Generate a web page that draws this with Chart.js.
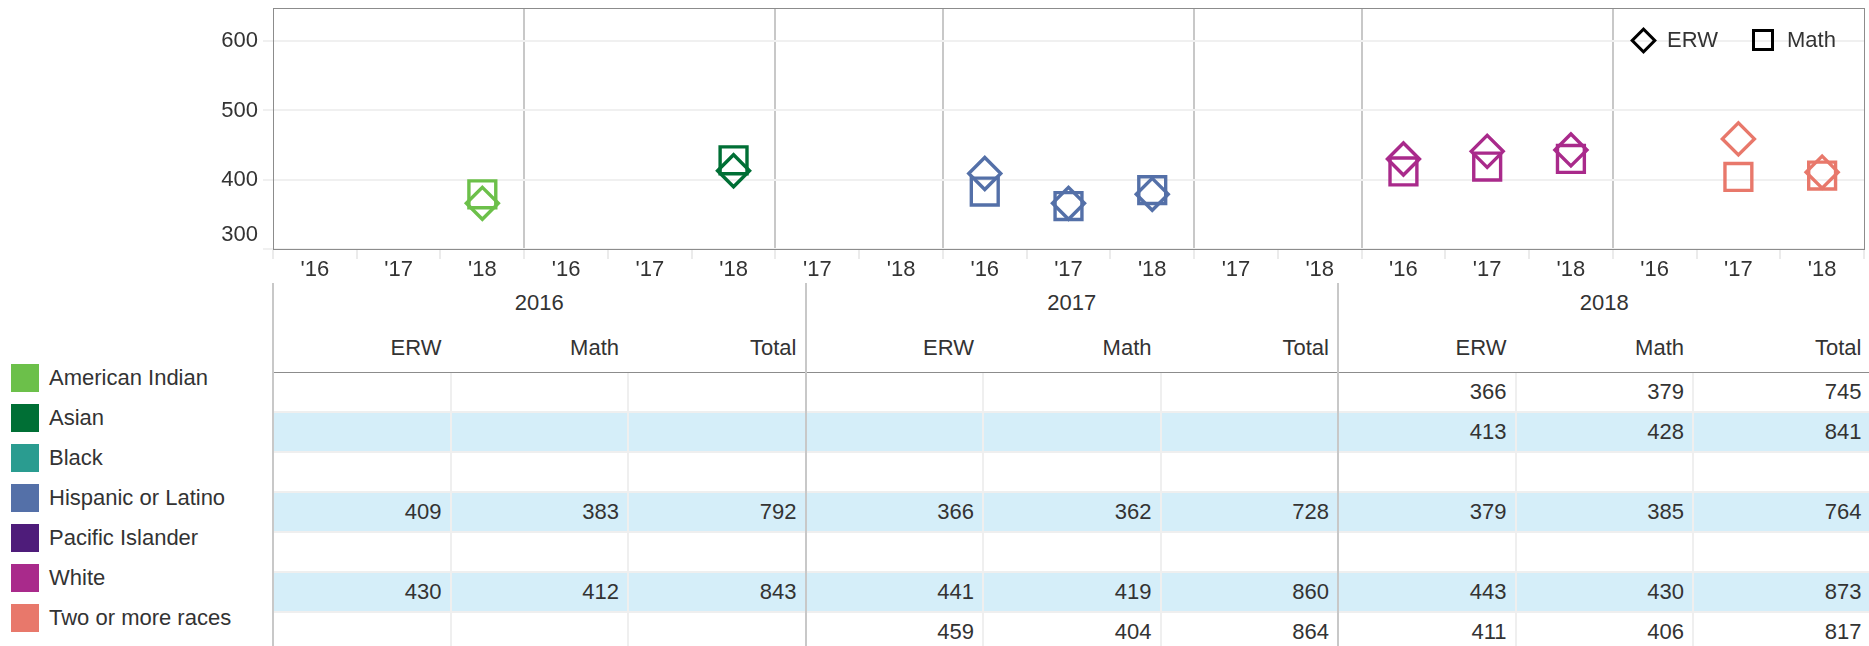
<!DOCTYPE html>
<html>
<head>
<meta charset="utf-8">
<script src="https://cdn.jsdelivr.net/npm/chart.js@4.4.1/dist/chart.umd.min.js"></script>
<style>
  html, body { margin:0; padding:0; background:#fff; }
  body { width:1869px; height:646px; overflow:hidden; font-family:'Liberation Sans', Arial, Helvetica, sans-serif; color:#333; }
  #wrap { position:relative; width:1869px; height:646px; overflow:hidden; }
  #chartBox { position:absolute; left:0; top:0; width:1869px; height:282px; }
  .abs { position:absolute; white-space:nowrap; font-size:22px; }
  .num { text-align:right; box-sizing:border-box; padding-right:9px; }
</style>
</head>
<body>
<div id="wrap">
  <div id="chartBox"><canvas id="c" width="1869" height="282"></canvas></div>
</div>
<script>
// ---------------- data ----------------
const races = ['American Indian', 'Asian', 'Black', 'Hispanic or Latino', 'Pacific Islander', 'White', 'Two or more races'];
const raceYears = [[2016, 2017, 2018], [2016, 2017, 2018], [2017, 2018], [2016, 2017, 2018], [2017, 2018], [2016, 2017, 2018], [2016, 2017, 2018]];
const xTickLabels = ["'16", "'17", "'18", "'16", "'17", "'18", "'17", "'18", "'16", "'17", "'18", "'17", "'18", "'16", "'17", "'18", "'16", "'17", "'18"];
const years = [2016, 2017, 2018];
const measures = ['ERW', 'Math', 'Total'];
const yTicks = [300, 400, 500, 600];
// values by race (null = no data)
const erw2016   = [null, null, null, 409, null, 430, null];
const math2016  = [null, null, null, 383, null, 412, null];
const total2016 = [null, null, null, 792, null, 843, null];
const erw2017   = [null, null, null, 366, null, 441, 459];
const math2017  = [null, null, null, 362, null, 419, 404];
const total2017 = [null, null, null, 728, null, 860, 864];
const erw2018   = [366, 413, null, 379, null, 443, 411];
const math2018  = [379, 428, null, 385, null, 430, 406];
const total2018 = [745, 841, null, 764, null, 873, 817];

// ---------------- styles ----------------
const raceColors = ['#6cc04a', '#006f35', '#2a9c90', '#5470a8', '#4e1c7a', '#a92a8b', '#e8786b'];
const textColor = '#333333';
const FONT = "'Liberation Sans', Arial, Helvetica, sans-serif";

// ---------------- derived ----------------
const valuesByYear = {
  2016: { ERW: erw2016, Math: math2016, Total: total2016 },
  2017: { ERW: erw2017, Math: math2017, Total: total2017 },
  2018: { ERW: erw2018, Math: math2018, Total: total2018 }
};
const cats = [];
raceYears.forEach((ys, r) => ys.forEach(y => cats.push({ r, y })));
const erwData = cats.map(c => valuesByYear[c.y].ERW[c.r]);
const mathData = cats.map(c => valuesByYear[c.y].Math[c.r]);
const catColors = cats.map(c => raceColors[c.r]);
const groupStarts = [];
{ let acc = 0; raceYears.forEach((ys, i) => { if (i > 0) groupStarts.push(acc); acc += ys.length; }); }

const shiftBottomLabel = {
  id: 'shiftBottomLabel',
  beforeDraw(chart) {
    const s = chart.scales.y;
    const items = s.getLabelItems(chart.chartArea);
    items.forEach((it, i) => {
      if (s.ticks[i] && s.ticks[i].value === s.min && !it._shifted) {
        it.options.translation[1] -= 14;
        it._shifted = true;
      }
    });
  }
};
const noPad = s => { s.paddingTop = 0; s.paddingBottom = 0; s.paddingLeft = 0; s.paddingRight = 0; };

const frame = '#8c8c8c';
new Chart(document.getElementById('c'), {
  type: 'line',
  data: {
    labels: xTickLabels,
    datasets: [
      {
        label: 'ERW', data: erwData, showLine: false,
        pointStyle: 'rectRot', pointRadius: 16, pointHoverRadius: 16,
        pointBorderWidth: 3.4, pointHoverBorderWidth: 3.4,
        pointBorderColor: catColors, pointBackgroundColor: 'rgba(0,0,0,0)'
      },
      {
        label: 'Math', data: mathData, showLine: false,
        pointStyle: 'rect', pointRadius: 19, pointHoverRadius: 19,
        pointBorderWidth: 3.4, pointHoverBorderWidth: 3.4,
        pointBorderColor: catColors, pointBackgroundColor: 'rgba(0,0,0,0)'
      }
    ]
  },
  options: {
    responsive: false,
    devicePixelRatio: 1,
    animation: false,
    layout: { autoPadding: false, padding: { top: 8, right: 5, left: 0, bottom: 0 } },
    plugins: { legend: { display: false }, tooltip: { enabled: false } },
    scales: {
      x: {
        type: 'category',
        offset: true,
        grid: {
          offset: true,
          drawOnChartArea: true,
          color: ctx => (ctx.type === 'tick' && groupStarts.includes(ctx.index)) ? '#c8c8c8' : 'rgba(0,0,0,0)',
          tickColor: '#ebebeb',
          lineWidth: 2,
          tickLength: 10
        },
        border: { display: true, color: frame, width: 1 },
        ticks: { color: textColor, font: { family: FONT, size: 22 }, padding: -2, autoSkip: false, maxRotation: 0 },
        afterFit: s => { s.height = 33; noPad(s); }
      },
      x2: {
        type: 'category', position: 'top',
        grid: { display: false, drawTicks: false },
        border: { display: true, color: frame, width: 1 },
        ticks: { display: false },
        afterFit: s => { s.height = 0; noPad(s); }
      },
      y: {
        min: yTicks[0], max: 648,
        grid: { color: '#f0f0f0', tickColor: '#f0f0f0', lineWidth: 2, tickLength: 10 },
        border: { display: true, color: frame, width: 1 },
        ticks: {
          stepSize: 100, includeBounds: false, color: textColor, padding: 5,
          font: { family: FONT, size: 22 },
          callback: v => yTicks.includes(v) ? String(v) : ''
        },
        afterFit: s => { s.width = 273; noPad(s); }
      },
      y2: {
        type: 'linear', position: 'right',
        grid: { display: false, drawTicks: false },
        border: { display: true, color: frame, width: 1 },
        ticks: { display: false },
        afterFit: s => { s.width = 0; noPad(s); }
      }
    }
  },
  plugins: [shiftBottomLabel]
});

// ---------------- HTML parts: legends and table ----------------
const wrap = document.getElementById('wrap');
function el(css, text, cls) {
  const d = document.createElement('div');
  d.className = 'abs' + (cls ? ' ' + cls : '');
  d.style.cssText = css;
  if (text !== undefined && text !== null) d.textContent = text;
  wrap.appendChild(d);
  return d;
}

// top-right marker legend
el('left:1633.5px;top:30.5px;width:19px;height:19px;box-sizing:border-box;border:3px solid #000;transform:rotate(45deg);');
el('left:1667px;top:26px;height:28px;line-height:28px;color:' + textColor + ';', 'ERW');
el('left:1752px;top:29px;width:22px;height:22px;box-sizing:border-box;border:3px solid #000;');
el('left:1787px;top:26px;height:28px;line-height:28px;color:' + textColor + ';', 'Math');

// race legend
races.forEach((name, i) => {
  el('left:11px;top:' + (364 + 40 * i) + 'px;width:28px;height:28px;background:' + raceColors[i] + ';');
  el('left:49px;top:' + (364 + 40 * i) + 'px;height:28px;line-height:28px;color:' + textColor + ';', name);
});

// table
const T_LEFT = 273, COL_W = 177.5, GROUP_W = COL_W * measures.length;
const HEAD_TOP = 283, SUB_TOP = 323, HEAD_LINE = 372, BODY_TOP = 373, ROW_H = 40;
const rowBg = ['#ffffff', '#d5eef9'];

races.forEach((name, r) => {
  const top = BODY_TOP + ROW_H * r;
  el('left:' + T_LEFT + 'px;top:' + top + 'px;width:' + (GROUP_W * 3) + 'px;height:38px;background:' + rowBg[r % 2] + ';');
  el('left:' + T_LEFT + 'px;top:' + (top + 38) + 'px;width:' + (GROUP_W * 3) + 'px;height:2px;background:#efefef;');
});
for (let c = 1; c < years.length * measures.length; c++) {
  if (c % measures.length === 0) continue;
  el('left:' + (T_LEFT + c * COL_W - 1) + 'px;top:' + HEAD_LINE + 'px;width:2px;height:' + (646 - HEAD_LINE) + 'px;background:#efefef;');
}
years.forEach((yr, g) => {
  el('left:' + (T_LEFT + g * GROUP_W) + 'px;top:' + HEAD_TOP + 'px;width:' + GROUP_W + 'px;height:40px;line-height:40px;text-align:center;color:' + textColor + ';', String(yr));
  measures.forEach((m, k) => {
    const left = T_LEFT + g * GROUP_W + k * COL_W;
    el('left:' + left + 'px;top:' + SUB_TOP + 'px;width:' + COL_W + 'px;height:49px;line-height:49px;color:' + textColor + ';', m, 'num');
    races.forEach((name, r) => {
      const v = valuesByYear[yr][m][r];
      if (v === null) return;
      el('left:' + left + 'px;top:' + (BODY_TOP + ROW_H * r) + 'px;width:' + COL_W + 'px;height:38px;line-height:38px;color:' + textColor + ';', String(v), 'num');
    });
  });
});
el('left:' + T_LEFT + 'px;top:' + HEAD_LINE + 'px;width:' + (GROUP_W * 3) + 'px;height:1px;background:#8c8c8c;');
for (let g = 0; g < years.length; g++) {
  el('left:' + (T_LEFT + g * GROUP_W - 1) + 'px;top:' + HEAD_TOP + 'px;width:2px;height:' + (646 - HEAD_TOP) + 'px;background:#c8c8c8;');
}
</script>
</body>
</html>
